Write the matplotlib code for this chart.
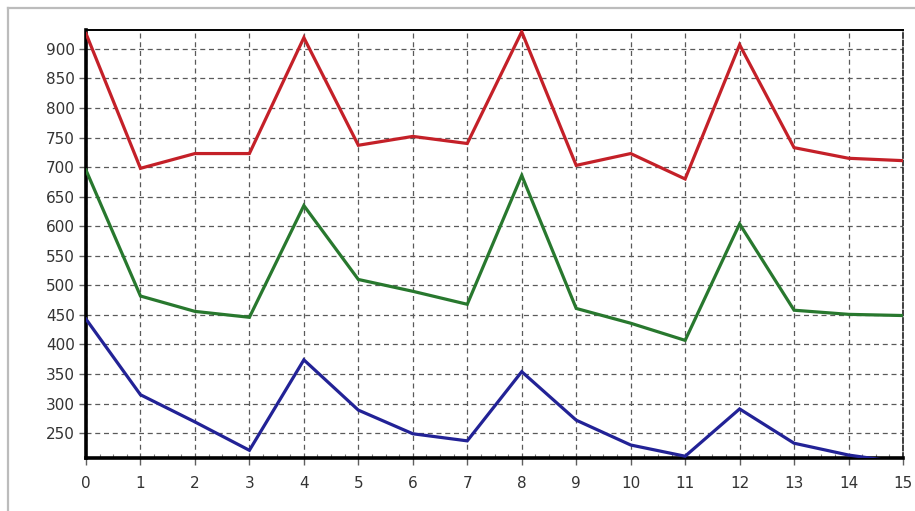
import matplotlib
matplotlib.use("Agg")
import matplotlib.pyplot as plt
from matplotlib.lines import Line2D
from matplotlib.ticker import MultipleLocator

# Sample index along the x axis
x_values = list(range(16))

# Three measured series
red_series = [926, 698, 723, 723, 919, 737, 752, 740, 929, 703, 723, 680, 907, 733, 715, 711]
green_series = [695, 482, 456, 446, 635, 510, 490, 468, 686, 461, 436, 407, 604, 458, 451, 449]
blue_series = [443, 315, 269, 221, 374, 289, 249, 237, 354, 272, 230, 211, 291, 233, 213, 200]

y_ticks = [250, 300, 350, 400, 450, 500, 550, 600, 650, 700, 750, 800, 850, 900]

W, H = 915, 511
fig = plt.figure(figsize=(W / 100, H / 100), dpi=100)
fig.patch.set_facecolor("white")

# Panel frame (light gray top and left edges)
fig.add_artist(Line2D([8 / W, 1.0], [1 - 8 / H, 1 - 8 / H], color="#bcbcbc", lw=1.6,
                      transform=fig.transFigure))
fig.add_artist(Line2D([8 / W, 8 / W], [1 - 8 / H, 0.0], color="#bcbcbc", lw=1.6,
                      transform=fig.transFigure))

left, right, top, bottom = 86, 903, 30, 458
ax = fig.add_axes([left / W, 1 - bottom / H, (right - left) / W, (bottom - top) / H])
ax.set_facecolor("white")

ax.plot(x_values, red_series, color="#c42028", lw=2.3, solid_joinstyle="miter", zorder=3)
ax.plot(x_values, green_series, color="#28782e", lw=2.3, solid_joinstyle="miter", zorder=3)
ax.plot(x_values, blue_series, color="#222296", lw=2.3, solid_joinstyle="miter", zorder=3)

ax.set_xlim(0, 15)
ax.set_ylim(208, 932)

ax.set_xticks(x_values)
ax.set_yticks(y_ticks)
ax.xaxis.set_minor_locator(MultipleLocator(0.25))

ax.grid(True, which="major", color="#5a5a5a", lw=0.9, linestyle=(0, (4, 3)), zorder=1)

for side in ("left", "bottom"):
    ax.spines[side].set_linewidth(2.6)
    ax.spines[side].set_color("black")
ax.spines["top"].set_linewidth(1.4)
ax.spines["top"].set_color("black")
ax.spines["right"].set_linewidth(1.2)
ax.spines["right"].set_color("#202020")
ax.spines["right"].set_linestyle((0, (3, 1.5)))

ax.tick_params(axis="both", which="major", direction="out", length=5, width=1,
               color="#606060", labelsize=11, labelcolor="#333333")
ax.tick_params(axis="x", which="major", pad=8)
ax.tick_params(axis="y", which="major", pad=3)
ax.tick_params(axis="x", which="minor", direction="in", length=3, width=0.8, color="#808080")

for lbl in ax.get_xticklabels() + ax.get_yticklabels():
    lbl.set_fontfamily("DejaVu Sans")

fig.savefig("out.png", dpi=100, facecolor="white")
